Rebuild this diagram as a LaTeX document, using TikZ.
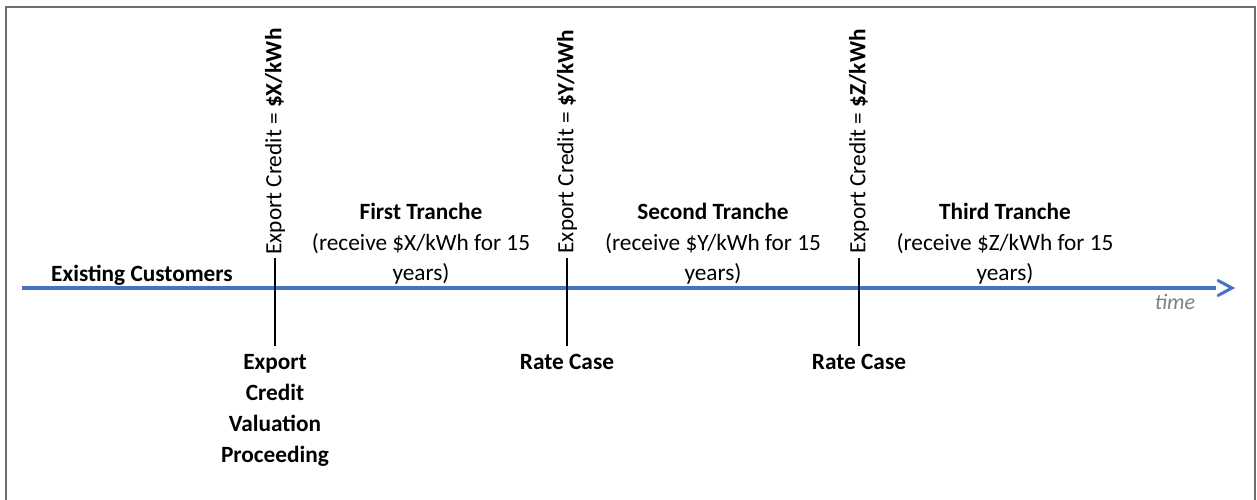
\documentclass[tikz,border=0pt]{standalone}
\usepackage{fontspec}
\setmainfont{Carlito}
\usetikzlibrary{calc}
\definecolor{tblue}{HTML}{4472C4}
\definecolor{framegray}{HTML}{6E6E6E}
\definecolor{timegray}{HTML}{7F7F7F}
\begin{document}
\begin{tikzpicture}[x=1pt,y=1pt,
  timeline/.style={draw=tblue,line width=3.6pt},
  tick/.style={draw=black,line width=2pt},
  txt/.style={font=\fontsize{23.3}{30.5}\selectfont,align=center,inner sep=0pt},
  rottxt/.style={txt,rotate=90},
  botlbl/.style={txt,font=\fontsize{23.3}{31}\selectfont\bfseries,anchor=north},
  tranche/.style={txt}]
\useasboundingbox (0,0) rectangle (1257,500);
\draw[draw=framegray,line width=2pt] (6,-3) -- (6,493) -- (1255,493) -- (1255,-3);
% timeline
\coordinate (tstart) at (22,212);
\coordinate (tend) at (1216,212);
\draw[timeline] (tstart) -- (tend);
\draw[timeline,line width=3pt,line cap=round] ($(tend)+(2,7.5)$) -- ($(tend)+(16,0)$) -- ($(tend)+(2,-7.5)$);
% ticks
\foreach \n/\x in {a/275,b/567,c/859}{
  \coordinate (\n top) at (\x,242);
  \coordinate (\n bot) at (\x,154);
  \draw[tick] (\n top) -- (\n bot);
}
\node[rottxt] (ra) at (275,358.5) {Export Credit = \textbf{\$X/kWh}};
\node[rottxt] (rb) at (567,358.5) {Export Credit = \textbf{\$Y/kWh}};
\node[rottxt] (rc) at (859,358.5) {Export Credit = \textbf{\$Z/kWh}};
\node[botlbl] (ba) at (275,146) {Export\\Credit\\Valuation\\Proceeding};
\node[botlbl] (bb) at (567,146) {Rate Case};
\node[botlbl] (bc) at (859,146) {Rate Case};
\node[tranche] (t1) at (421,256) {\textbf{First Tranche}\\(receive \$X/kWh for 15\\years)};
\node[tranche] (t2) at (713,256) {\textbf{Second Tranche}\\(receive \$Y/kWh for 15\\years)};
\node[tranche] (t3) at (1005,256) {\textbf{Third Tranche}\\(receive \$Z/kWh for 15\\years)};
\node[txt,font=\fontsize{23.3}{28}\selectfont\bfseries] (ex) at (142,225) {Existing Customers};
\node[txt,font=\fontsize{22}{26}\selectfont\itshape,text=timegray] (time) at (1175,198) {time};
\end{tikzpicture}
\end{document}
